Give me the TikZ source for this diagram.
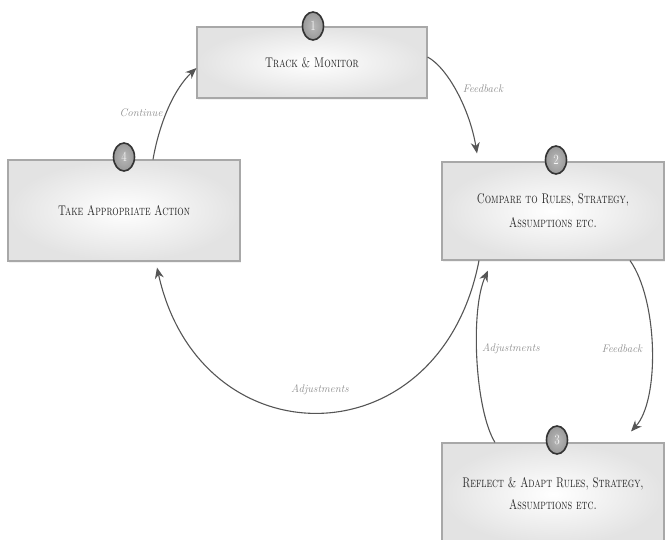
\documentclass[tikz,border=0pt]{standalone}
\usetikzlibrary{arrows.meta,shapes.geometric,shadows}
\usepackage{graphicx}
\definecolor{boxline}{HTML}{A8A8A8}
\definecolor{arrowc}{HTML}{555555}
\definecolor{txt}{HTML}{262626}
\definecolor{lbl}{HTML}{8C8C8C}
\newcommand{\sqz}[2]{\scalebox{#1}[1]{#2}}
\begin{document}
\begin{tikzpicture}[x=1pt,y=-1pt,
  stepbox/.style={draw=boxline, line width=1.1pt, shade, inner color=white, outer color=black!11,
    drop shadow={opacity=0.10, shadow xshift=1pt, shadow yshift=-2pt},
    text=txt, inner sep=0pt, align=center},
  numdot/.style={ellipse, draw=black!80, line width=1.6pt, shade, inner color=gray!55, outer color=gray!80,
    minimum width=21pt, minimum height=28pt, inner sep=0pt, text=white!92!gray},
  flow/.style={draw=arrowc, line width=1.1pt, -{Stealth[length=11pt,width=9pt]}},
  lab/.style={text=lbl, inner sep=0pt, font=\fontsize{11}{11}\selectfont\itshape}
]
\useasboundingbox (0,0) rectangle (665,540);
\begin{scope}
\clip (0,0) rectangle (665,540);
\node[stepbox, minimum width=230pt, minimum height=71pt] (b1) at (312,62.5)
  {\fontsize{14}{24}\selectfont\scshape\sqz{0.73}{Track \& Monitor}};
\node[stepbox, minimum width=232pt, minimum height=101pt] (b4) at (124,210.5)
  {\fontsize{14}{24}\selectfont\scshape\sqz{0.72}{Take Appropriate Action}};
\node[stepbox, minimum width=222pt, minimum height=98pt] (b2) at (553,211)
  {\fontsize{14}{24}\selectfont\scshape\sqz{0.72}{\begin{tabular}{@{}c@{}}Compare to Rules, Strategy,\\ Assumptions etc.\end{tabular}}};
\node[stepbox, minimum width=222pt, minimum height=102pt] (b3) at (553,494)
  {\fontsize{14}{22}\selectfont\scshape\sqz{0.72}{\begin{tabular}{@{}c@{}}Reflect \& Adapt Rules, Strategy,\\ Assumptions etc.\end{tabular}}};
\end{scope}

\node[numdot] (c1) at (313,26) {\fontsize{14}{14}\selectfont\sqz{0.8}{1}};
\node[numdot] (c2) at (556,160) {\fontsize{14}{14}\selectfont\sqz{0.8}{2}};
\node[numdot] (c3) at (557,440) {\fontsize{14}{14}\selectfont\sqz{0.8}{3}};
\node[numdot] (c4) at (124,157) {\fontsize{14}{14}\selectfont\sqz{0.8}{4}};

% Continue
\draw[flow] ([xshift=29pt]b4.north) .. controls (160,120) and (175,88) .. ([yshift=-5.5pt]b1.west);
% Feedback top
\draw[flow] ([yshift=5.5pt]b1.east) .. controls (448,68) and (470,110) .. ([xshift=-76pt,yshift=8pt]b2.north);
% Feedback right
\draw[flow] ([xshift=77pt]b2.south) .. controls (658,300) and (660,400) .. ([xshift=78pt,yshift=11pt]b3.north);
% Adjustments middle
\draw[flow] ([xshift=-58pt]b3.north) .. controls (475,410) and (470,310) .. ([xshift=-65pt,yshift=-10pt]b2.south);
% Adjustments big
\draw[flow] ([xshift=-74pt]b2.south) .. controls (440,462) and (200,462) .. ([xshift=33pt,yshift=-6pt]b4.south);

\node[lab] (l1) at (141,113) {Continue};
\node[lab] (l2) at (483,89) {Feedback};
\node[lab] (l3) at (511,349) {Adjustments};
\node[lab] (l4) at (622,349) {Feedback};
\node[lab] (l5) at (320,390) {Adjustments};
\end{tikzpicture}
\end{document}
